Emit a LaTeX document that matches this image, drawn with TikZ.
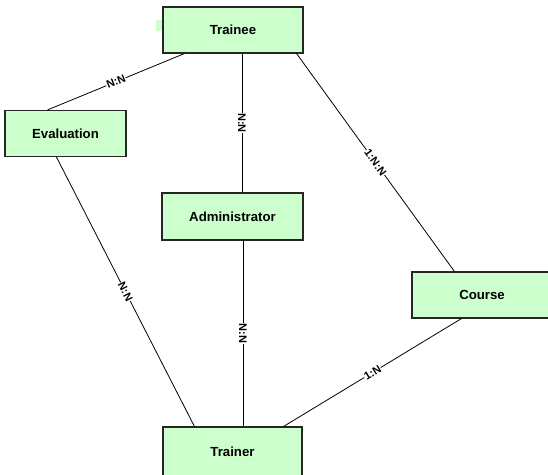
\documentclass[tikz,border=0pt]{standalone}
\usepackage{fontspec}
\setmainfont{Liberation Sans}
\usetikzlibrary{calc}

\definecolor{entitygreen}{HTML}{CCFFCC}

\begin{document}
\begin{tikzpicture}[x=1pt,y=1pt,
  entity/.style={rectangle,draw=black!85,fill=entitygreen,line width=1.1pt,
    inner sep=0pt,font=\fontsize{13.2}{15}\selectfont\bfseries},
  card/.style={fill=white,inner sep=0.6pt,sloped,font=\fontsize{11}{12}\selectfont\bfseries}]

  \useasboundingbox (0,0) rectangle (548,-474);
  \clip (0,0) rectangle (548,-474);

  \fill[entitygreen] (156,-20) rectangle (163,-31);

  \node[entity,minimum width=140pt,minimum height=46pt] (trainee) at (233,-30) {Trainee};
  \node[entity,minimum width=121pt,minimum height=46pt] (evaluation) at (65.5,-133.5) {Evaluation};
  \node[entity,minimum width=141pt,minimum height=47pt] (admin) at (232.5,-216.5) {Administrator};
  \node[entity,minimum width=140pt,minimum height=46pt] (course) at (482,-295) {Course};
  \node[entity,minimum width=139pt,minimum height=50pt] (trainer) at (232.5,-452) {Trainer};

  \draw[line width=0.8pt] ([xshift=22pt]trainee.south west) -- node[card] {N:N} ([xshift=43pt]evaluation.north west);
  \draw[line width=0.8pt] ([xshift=9pt]trainee.south) -- node[card] {N:N} ([xshift=9.5pt]admin.north);
  \draw[line width=0.8pt] ([xshift=-7pt]trainee.south east) -- node[card] {1:N:N} ([xshift=43pt]course.north west);
  \draw[line width=0.8pt] ([xshift=52pt]evaluation.south west) -- node[card] {N:N} ([xshift=32pt]trainer.north west);
  \draw[line width=0.8pt] ([xshift=10.5pt]admin.south) -- node[card] {N:N} ([xshift=10.5pt]trainer.north);
  \draw[line width=0.8pt] ([xshift=50pt]course.south west) -- node[card] {1:N} ([xshift=-19pt]trainer.north east);
\end{tikzpicture}
\end{document}
